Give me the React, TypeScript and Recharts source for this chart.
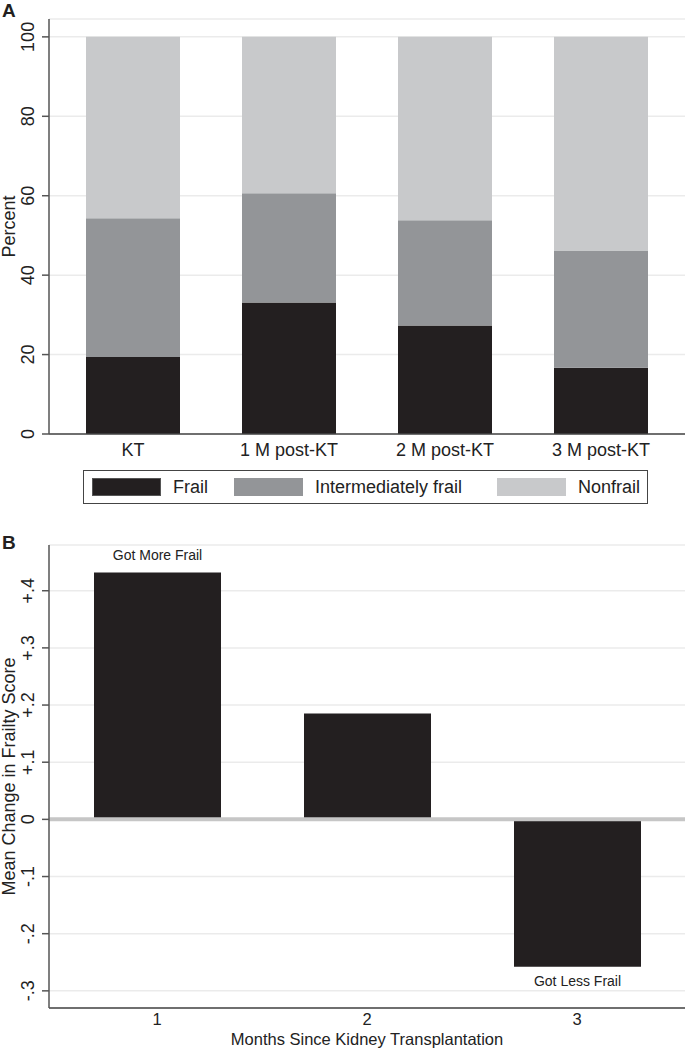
import {
  BarChart,
  Bar,
  XAxis,
  YAxis,
  CartesianGrid,
  Legend,
  ReferenceLine,
  LabelList,
  Label,
} from "recharts";

// Panel A: frailty status at each visit (percent, stacked)
const visits = ["KT", "1 M post-KT", "2 M post-KT", "3 M post-KT"];
const frail = [19.4, 33.1, 27.3, 16.7];
const intermediate = [34.9, 27.5, 26.5, 29.5];
const nonfrail = [45.7, 39.4, 46.2, 53.8];
const percentTicks = [0, 20, 40, 60, 80, 100];

// Panel B: mean change in frailty score
const months = ["1", "2", "3"];
const meanChange = [0.432, 0.185, -0.258];
const barNotes = ["Got More Frail", "", "Got Less Frail"];
const changeTicks = [-0.3, -0.2, -0.1, 0, 0.1, 0.2, 0.3, 0.4];

const FONT = '"Liberation Sans", Arial, Helvetica, sans-serif';
const INK = "#231f20";
const colors = { frail: "#231f20", intermediate: "#939598", nonfrail: "#c8c9cb" };
const seriesA = [
  { key: "frail", name: "Frail" },
  { key: "intermediate", name: "Intermediately frail" },
  { key: "nonfrail", name: "Nonfrail" },
];

const dataA = visits.map((v, i) => ({
  visit: v,
  frail: frail[i],
  intermediate: intermediate[i],
  nonfrail: nonfrail[i],
}));

const dataB = months.map((m, i) => ({ month: m, change: meanChange[i], note: barNotes[i] }));

const fmtChange = (v: number) => {
  if (Math.abs(v) < 1e-9) return "0";
  const s = Math.abs(v).toFixed(1).replace(/^0/, "");
  return (v > 0 ? "+" : "-") + s;
};

// rotated y tick labels, like Stata's default
const RotTick = (props: any) => {
  const { x, y, payload, fmt } = props;
  return (
    <g transform={`translate(${x - 8},${y}) rotate(-90)`}>
      <text textAnchor="middle" fontSize={18} fill="#222" fontFamily={FONT}>
        {fmt ? fmt(payload.value) : payload.value}
      </text>
    </g>
  );
};

const yTitle = (text: string) => (props: any) => {
  const vb = props.viewBox;
  const cy = vb.y + vb.height / 2;
  return (
    <text
      transform={`translate(15,${cy}) rotate(-90)`}
      textAnchor="middle"
      fontSize={18}
      fill="#222"
      fontFamily={FONT}
    >
      {text}
    </text>
  );
};

const xTitle = (text: string) => (props: any) => {
  const vb = props.viewBox;
  return (
    <text
      x={vb.x + vb.width / 2}
      y={vb.y + 37}
      textAnchor="middle"
      fontSize={16.5}
      fill="#222"
      fontFamily={FONT}
    >
      {text}
    </text>
  );
};

const BoxLegend = () => {
  const lefts = [8, 150, 413];
  return (
    <div
      style={{
        position: "relative",
        width: 565,
        height: 34,
        boxSizing: "border-box",
        border: "1.5px solid #444",
        background: "#fff",
        fontFamily: FONT,
        fontSize: 18,
        color: "#222",
      }}
    >
      {seriesA.map((s, i) => (
        <div key={s.key}>
          <div
            style={{
              position: "absolute",
              left: lefts[i],
              top: 7,
              width: 69,
              height: 18,
              boxSizing: "border-box",
              background: (colors as any)[s.key],
              border: i === 0 ? "1px solid #555" : "none",
            }}
          />
          <div style={{ position: "absolute", left: lefts[i] + 81, top: 5, lineHeight: "22px" }}>
            {s.name}
          </div>
        </div>
      ))}
    </div>
  );
};

const NoteLabel = (props: any) => {
  const { x, y, width, height, index } = props;
  const note = barNotes[index];
  if (!note) return null;
  const top = Math.min(y, y + height);
  const bottom = Math.max(y, y + height);
  const neg = meanChange[index] < 0;
  return (
    <text
      x={x + width / 2}
      y={neg ? bottom + 19 : top - 12}
      textAnchor="middle"
      fontSize={14}
      fill="#222"
      fontFamily={FONT}
    >
      {note}
    </text>
  );
};

function PanelLetter({ letter, top }: { letter: string; top: number }) {
  return (
    <svg width={30} height={24} style={{ position: "absolute", left: 0, top }}>
      <text x={2} y={17} fontSize={19} fontWeight="bold" fill={INK} fontFamily={FONT}>
        {letter}
      </text>
    </svg>
  );
}

export default function App() {
  return (
    <div style={{ position: "absolute", left: 0, top: 0, width: 685, height: 1050, background: "#fff" }}>
      <PanelLetter letter="A" top={0} />
      <div style={{ position: "absolute", left: 0, top: 0 }}>
        <BarChart width={685} height={515} data={dataA} margin={{ top: 19, right: 0, left: 0, bottom: 51 }}>
          <CartesianGrid vertical={false} stroke="#ebebeb" strokeWidth={1.5} />
          <XAxis
            dataKey="visit"
            padding={{ left: 6, right: 6 }}
            tickLine={false}
            tickSize={6}
            tickMargin={3}
            axisLine={{ stroke: "#444", strokeWidth: 1.5 }}
            tick={{ fontSize: 18, fill: "#222", fontFamily: FONT }}
          />
          <YAxis
            width={49}
            domain={[0, 104.5]}
            ticks={percentTicks}
            tickSize={7}
            tickMargin={0}
            tickLine={{ stroke: "#555", strokeWidth: 1.5 }}
            axisLine={{ stroke: "#555", strokeWidth: 1.5 }}
            tick={(p: any) => <RotTick {...p} />}
            allowDataOverflow
          >
            <Label content={yTitle("Percent")} />
          </YAxis>
          <Legend
            layout="horizontal"
            verticalAlign="middle"
            align="center"
            wrapperStyle={{ top: 470, left: 83, width: 565, height: 34 }}
            content={() => <BoxLegend />}
          />
          {seriesA.map((s) => (
            <Bar
              key={s.key}
              dataKey={s.key}
              name={s.name}
              stackId="a"
              barSize={94}
              fill={(colors as any)[s.key]}
              isAnimationActive={false}
            />
          ))}
        </BarChart>
      </div>

      <PanelLetter letter="B" top={532} />
      <div style={{ position: "absolute", left: 0, top: 520 }}>
        <BarChart width={685} height={530} data={dataB} margin={{ top: 25, right: 0, left: 0, bottom: 0 }}>
          <CartesianGrid vertical={false} stroke="#ebebeb" strokeWidth={1.5} />
          <XAxis
            dataKey="month"
            height={42}
            padding={{ left: 3, right: 3 }}
            tickLine={false}
            tickSize={5}
            tickMargin={0}
            axisLine={{ stroke: "#444", strokeWidth: 1.5 }}
            tick={{ fontSize: 16.5, fill: "#222", fontFamily: FONT }}
          >
            <Label content={xTitle("Months Since Kidney Transplantation")} />
          </XAxis>
          <YAxis
            width={49}
            domain={[-0.33, 0.48]}
            ticks={changeTicks}
            tickSize={7}
            tickMargin={0}
            tickLine={{ stroke: "#555", strokeWidth: 1.5 }}
            axisLine={{ stroke: "#555", strokeWidth: 1.5 }}
            tick={(p: any) => <RotTick {...p} fmt={fmtChange} />}
            allowDataOverflow
          >
            <Label content={yTitle("Mean Change in Frailty Score")} />
          </YAxis>
          <ReferenceLine y={0} stroke="#c6c6c6" strokeWidth={4} />
          <Bar dataKey="change" barSize={127} fill={INK} isAnimationActive={false}>
            <LabelList dataKey="note" content={(p: any) => <NoteLabel {...p} />} />
          </Bar>
        </BarChart>
      </div>
    </div>
  );
}
